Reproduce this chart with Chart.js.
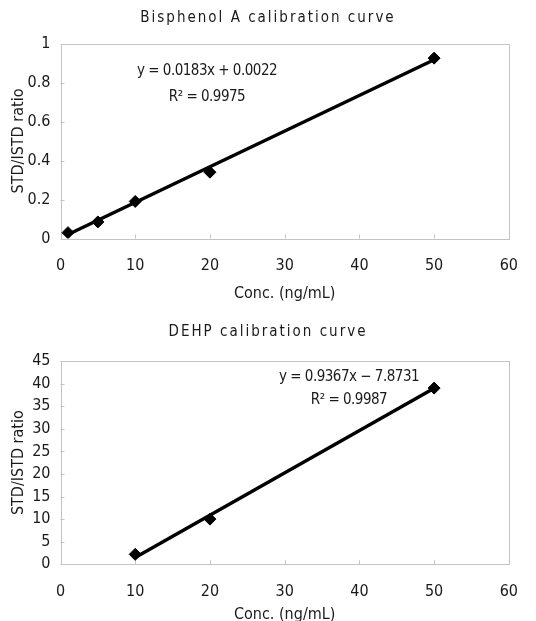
<!DOCTYPE html>
<html>
<head>
<meta charset="utf-8">
<script src="https://cdn.jsdelivr.net/npm/chart.js@4.4.1/dist/chart.umd.min.js"></script>
<style>
  html, body { margin: 0; padding: 0; background: #fff; }
  .box { position: absolute; left: 0; width: 536px; }
</style>
</head>
<body>
<div class="box" style="top:0;height:310px"><canvas id="bpa" width="536" height="310"></canvas></div>
<div class="box" style="top:310px;height:311px"><canvas id="dehp" width="536" height="311"></canvas></div>
<script>
// Bisphenol A
const bpaConc = [1, 5, 10, 20, 50];
const bpaRatio = [0.03, 0.085, 0.19, 0.34, 0.925];
const bpaFitX = [1, 50];
const bpaFitY = [0.0205, 0.917];
const bpaEq = ["y = 0.0183x + 0.0022", "R\u00B2 = 0.9975"];

// DEHP
const dehpConc = [10, 20, 50];
const dehpRatio = [2.2, 10, 39];
const dehpFitX = [10, 50];
const dehpFitY = [1.5, 38.96];
const dehpEq = ["y = 0.9367x \u2212 7.8731", "R\u00B2 = 0.9987"];

const FONT = "'DejaVu Sans Condensed', 'Liberation Sans', sans-serif";
Chart.defaults.font.family = FONT;
Chart.defaults.color = "#1a1a1a";

// frame, inner tick marks, heading and equation text
const decor = {
  id: "decor",
  beforeDatasetsDraw(chart, args, opts) {
    const { ctx, chartArea: a, scales } = chart;
    ctx.save();
    ctx.strokeStyle = "#c4c4c4";
    ctx.lineWidth = 1;
    ctx.strokeRect(Math.round(a.left) + 0.5, Math.round(a.top) + 0.5,
      Math.round(a.right - a.left), Math.round(a.bottom - a.top));
    ctx.beginPath();
    scales.x.ticks.forEach(t => {
      const px = Math.round(scales.x.getPixelForValue(t.value)) + 0.5;
      ctx.moveTo(px, a.bottom); ctx.lineTo(px, a.bottom - 4);
    });
    scales.y.ticks.forEach(t => {
      const py = Math.round(scales.y.getPixelForValue(t.value)) + 0.5;
      ctx.moveTo(a.left, py); ctx.lineTo(a.left + 4, py);
    });
    ctx.stroke();
    ctx.restore();
  },
  afterDraw(chart, args, opts) {
    const { ctx } = chart;
    ctx.save();
    ctx.fillStyle = "#1a1a1a";
    ctx.textAlign = "center";
    ctx.textBaseline = "middle";
    ctx.font = "15px " + FONT;
    ctx.letterSpacing = "2px";
    ctx.fillText(opts.heading, chart.width / 2, opts.headingY);
    ctx.font = "15px " + FONT;
    ctx.letterSpacing = "-0.5px";
    opts.lines.forEach((s, i) => ctx.fillText(s, opts.eqX, opts.eqY[i]));
    ctx.restore();
  }
};

const fmt = v => String(Number(v.toFixed(2)));

function makeChart(id, conc, ratio, fitX, fitY, yMax, yStep, plotBottom, pad, extra) {
  return new Chart(document.getElementById(id), {
    type: "scatter",
    data: {
      datasets: [
        {
          data: fitX.map((x, i) => ({ x: x, y: fitY[i] })),
          showLine: true,
          borderColor: "#000",
          borderWidth: 3.4,
          pointRadius: 0,
          order: 1
        },
        {
          data: conc.map((x, i) => ({ x: x, y: ratio[i] })),
          pointStyle: "rectRot",
          pointRadius: 6,
          backgroundColor: "#000",
          borderColor: "#000",
          order: 0
        }
      ]
    },
    options: {
      responsive: false,
      animation: false,
      layout: { padding: pad },
      plugins: {
        legend: { display: false },
        tooltip: { enabled: false },
        decor: extra
      },
      scales: {
        x: {
          min: 0, max: 60,
          grid: { display: false, drawTicks: false },
          border: { display: false },
          ticks: { stepSize: 10, padding: 18, font: { size: 16 }, color: "#1a1a1a" },
          title: { display: true, text: "Conc. (ng/mL)", font: { size: 16 }, color: "#1a1a1a", padding: extra.xTitlePad },
          afterFit: s => { s.height = plotBottom; }
        },
        y: {
          min: 0, max: yMax,
          grid: { display: false, drawTicks: false },
          border: { display: false },
          ticks: { stepSize: yStep, padding: 10, font: { size: 16 }, color: "#1a1a1a", callback: fmt },
          title: { display: true, text: "STD/ISTD ratio", font: { size: 16 }, color: "#1a1a1a", padding: 9 },
          afterFit: s => { s.width = 60.5; }
        }
      }
    },
    plugins: [decor]
  });
}

makeChart("bpa", bpaConc, bpaRatio, bpaFitX, bpaFitY, 1, 0.2, 71.5,
  { top: 43.5, right: 23, left: 0, bottom: 0 },
  { heading: "Bisphenol A calibration curve", headingY: 18, lines: bpaEq, eqX: 207, eqY: [71, 97], xTitlePad: 7 });

makeChart("dehp", dehpConc, dehpRatio, dehpFitX, dehpFitY, 45, 5, 56.7,
  { top: 51, right: 27, left: 0, bottom: 0 },
  { heading: "DEHP calibration curve", headingY: 22, lines: dehpEq, eqX: 349, eqY: [67, 90], xTitlePad: -3 });
</script>
</body>
</html>
